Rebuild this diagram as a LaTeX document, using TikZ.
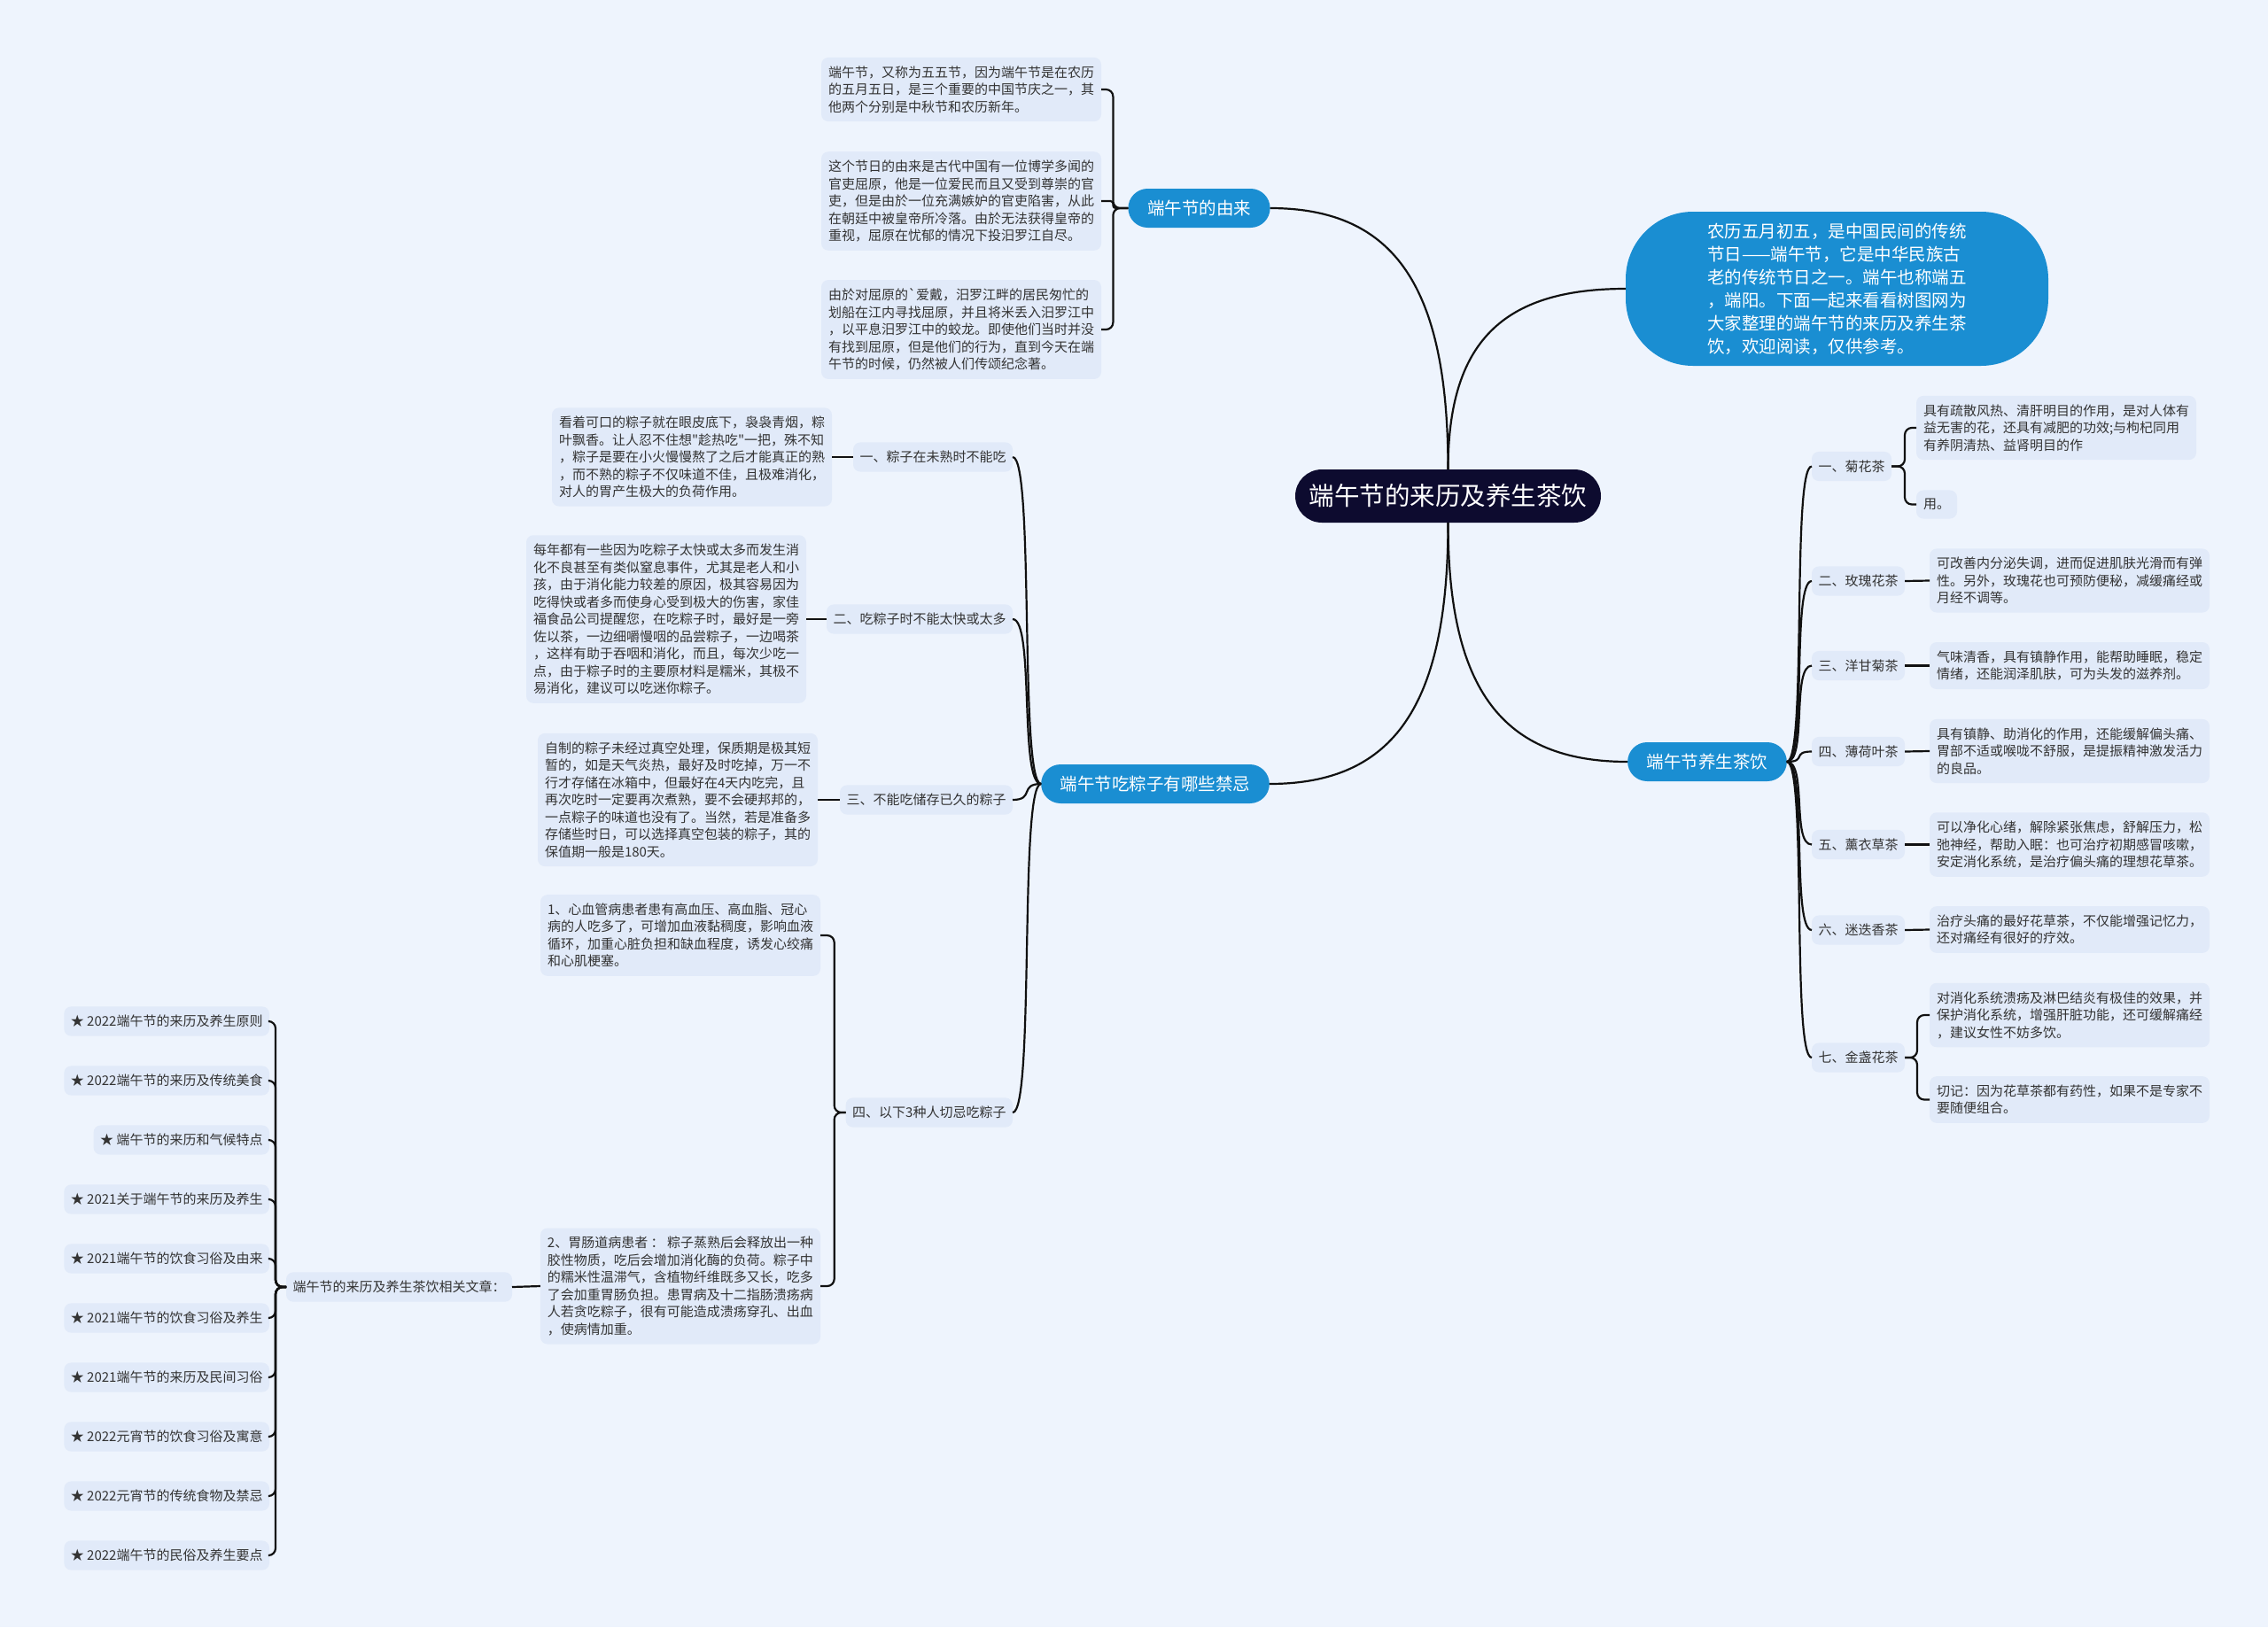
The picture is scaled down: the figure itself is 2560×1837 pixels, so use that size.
\documentclass[tikz,border=0pt]{standalone}
\usepackage{fontspec}
\setmainfont{Noto Sans CJK SC}[Ligatures=TeXOff]
\definecolor{bgc}{HTML}{EEF4FD}
\definecolor{boxc}{HTML}{E1EAF9}
\definecolor{bluec}{HTML}{1A8ED2}
\definecolor{navyc}{HTML}{0D0B2F}
\definecolor{txtc}{HTML}{333333}
\definecolor{lnc}{HTML}{111111}
\begin{document}
\begin{tikzpicture}[x=0.5pt,y=-0.5pt,
  every node/.style={inner sep=0pt, outer sep=0pt},
  dbox/.style={fill=boxc, rounded corners=4pt, align=left, text=txtc, font=\fontsize{7.5pt}{9.75pt}\selectfont, inner xsep=4pt, inner ysep=4.8pt},
  lbox/.style={dbox, inner xsep=3.75pt},
  bnode/.style={fill=bluec, text=white, rounded corners=11pt, minimum height=22pt, inner xsep=10.8pt, font=\fontsize{9.75pt}{12pt}\selectfont},
  conn/.style={draw=lnc, line width=1.1pt},
  brk/.style={conn, rounded corners=4pt},
]
\fill[bgc] (0,0) rectangle (2560,1837);
\useasboundingbox (0,0) rectangle (2560,1837);

% root and level 1
\node[fill=navyc, text=white, rounded corners=15pt, minimum width=172.5pt, minimum height=30pt, font=\fontsize{14.25pt}{16pt}\selectfont] (root) at (1634.5,560) {端午节的来历及养生茶饮};
\node[fill=bluec, text=white, rounded corners=38pt, minimum width=238.5pt, minimum height=87pt, align=left, font=\fontsize{9.75pt}{13pt}\selectfont] (intro) at (2073.5,326) {农历五月初五，是中国民间的传统\\节日——端午节，它是中华民族古\\老的传统节日之一。端午也称端五\\，端阳。下面一起来看看树图网为\\大家整理的端午节的来历及养生茶\\饮，欢迎阅读，仅供参考。};
\node[bnode] (yl) at (1353.5,235) {端午节的由来};
\node[bnode] (jj) at (1304,885) {端午节吃粽子有哪些禁忌};
\node[bnode] (ys) at (1927,860) {端午节养生茶饮};

% origin details
\node[dbox, anchor=east] (y1) at (1243,101) {端午节，又称为五五节，因为端午节是在农历\\的五月五日，是三个重要的中国节庆之一，其\\他两个分别是中秋节和农历新年。};
\node[dbox, anchor=east] (y2) at (1243,227) {这个节日的由来是古代中国有一位博学多闻的\\官吏屈原，他是一位爱民而且又受到尊崇的官\\吏，但是由於一位充满嫉妒的官吏陷害，从此\\在朝廷中被皇帝所冷落。由於无法获得皇帝的\\重视，屈原在忧郁的情况下投汨罗江自尽。};
\node[dbox, anchor=east] (y3) at (1243,372) {由於对屈原的`爱戴，汨罗江畔的居民匆忙的\\划船在江内寻找屈原，并且将米丢入汨罗江中\\，以平息汨罗江中的蛟龙。即使他们当时并没\\有找到屈原，但是他们的行为，直到今天在端\\午节的时候，仍然被人们传颂纪念著。};

% taboos
\node[lbox, anchor=east] (j1) at (1143,516) {一、粽子在未熟时不能吃};
\node[lbox, anchor=east] (j2) at (1143,699) {二、吃粽子时不能太快或太多};
\node[lbox, anchor=east] (j3) at (1143,903) {三、不能吃储存已久的粽子};
\node[lbox, anchor=east] (j4) at (1143,1256) {四、以下3种人切忌吃粽子};

\node[dbox, anchor=east] (d1) at (939,516) {看着可口的粽子就在眼皮底下，袅袅青烟，粽\\叶飘香。让人忍不住想"趁热吃"一把，殊不知\\，粽子是要在小火慢慢熬了之后才能真正的熟\\，而不熟的粽子不仅味道不佳，且极难消化，\\对人的胃产生极大的负荷作用。};
\node[dbox, anchor=east] (d2) at (910,699) {每年都有一些因为吃粽子太快或太多而发生消\\化不良甚至有类似窒息事件，尤其是老人和小\\孩，由于消化能力较差的原因，极其容易因为\\吃得快或者多而使身心受到极大的伤害，家佳\\福食品公司提醒您，在吃粽子时，最好是一旁\\佐以茶，一边细嚼慢咽的品尝粽子，一边喝茶\\，这样有助于吞咽和消化，而且，每次少吃一\\点，由于粽子时的主要原材料是糯米，其极不\\易消化，建议可以吃迷你粽子。};
\node[dbox, anchor=east] (d3) at (923,903) {自制的粽子未经过真空处理，保质期是极其短\\暂的，如是天气炎热，最好及时吃掉，万一不\\行才存储在冰箱中，但最好在4天内吃完，且\\再次吃时一定要再次煮熟，要不会硬邦邦的，\\一点粽子的味道也没有了。当然，若是准备多\\存储些时日，可以选择真空包装的粽子，其的\\保值期一般是180天。};
\node[dbox, anchor=east] (d41) at (926,1056) {1、心血管病患者患有高血压、高血脂、冠心\\病的人吃多了，可增加血液黏稠度，影响血液\\循环，加重心脏负担和缺血程度，诱发心绞痛\\和心肌梗塞。};
\node[dbox, anchor=east] (d42) at (926,1452) {2、胃肠道病患者 ： 粽子蒸熟后会释放出一种\\胶性物质，吃后会增加消化酶的负荷。粽子中\\的糯米性温滞气，含植物纤维既多又长，吃多\\了会加重胃肠负担。患胃病及十二指肠溃疡病\\人若贪吃粽子，很有可能造成溃疡穿孔、出血\\，使病情加重。};

% related articles
\node[lbox, anchor=east] (rel) at (578,1453) {端午节的来历及养生茶饮相关文章：};
\node[lbox, anchor=east] (r1) at (304,1153) {★ 2022端午节的来历及养生原则};
\node[lbox, anchor=east] (r2) at (304,1220) {★ 2022端午节的来历及传统美食};
\node[lbox, anchor=east] (r3) at (304,1287) {★ 端午节的来历和气候特点};
\node[lbox, anchor=east] (r4) at (304,1354) {★ 2021关于端午节的来历及养生};
\node[lbox, anchor=east] (r5) at (304,1421) {★ 2021端午节的饮食习俗及由来};
\node[lbox, anchor=east] (r6) at (304,1488) {★ 2021端午节的饮食习俗及养生};
\node[lbox, anchor=east] (r7) at (304,1555) {★ 2021端午节的来历及民间习俗};
\node[lbox, anchor=east] (r8) at (304,1622) {★ 2022元宵节的饮食习俗及寓意};
\node[lbox, anchor=east] (r9) at (304,1689) {★ 2022元宵节的传统食物及禁忌};
\node[lbox, anchor=east] (r10) at (304,1756) {★ 2022端午节的民俗及养生要点};

% teas
\node[lbox, anchor=west] (t1) at (2045,526.5) {一、菊花茶};
\node[lbox, anchor=west] (t2) at (2045,656) {二、玫瑰花茶};
\node[lbox, anchor=west] (t3) at (2045,751.5) {三、洋甘菊茶};
\node[lbox, anchor=west] (t4) at (2045,848.5) {四、薄荷叶茶};
\node[lbox, anchor=west] (t5) at (2045,953.5) {五、薰衣草茶};
\node[lbox, anchor=west] (t6) at (2045,1050) {六、迷迭香茶};
\node[lbox, anchor=west] (t7) at (2045,1194) {七、金盏花茶};

\node[dbox, anchor=west] (e1a) at (2163,483) {具有疏散风热、清肝明目的作用，是对人体有\\益无害的花，还具有减肥的功效;与枸杞同用\\有养阴清热、益肾明目的作};
\node[dbox, anchor=west] (e1b) at (2163,569.5) {用。};
\node[dbox, anchor=west] (e2) at (2178,655.5) {可改善内分泌失调，进而促进肌肤光滑而有弹\\性。另外，玫瑰花也可预防便秘，减缓痛经或\\月经不调等。};
\node[dbox, anchor=west] (e3) at (2178,751.5) {气味清香，具有镇静作用，能帮助睡眠，稳定\\情绪，还能润泽肌肤，可为头发的滋养剂。};
\node[dbox, anchor=west] (e4) at (2178,848) {具有镇静、助消化的作用，还能缓解偏头痛、\\胃部不适或喉咙不舒服，是提振精神激发活力\\的良品。};
\node[dbox, anchor=west] (e5) at (2178,953.5) {可以净化心绪，解除紧张焦虑，舒解压力，松\\弛神经，帮助入眠：也可治疗初期感冒咳嗽，\\安定消化系统，是治疗偏头痛的理想花草茶。};
\node[dbox, anchor=west] (e6) at (2178,1049.5) {治疗头痛的最好花草茶，不仅能增强记忆力，\\还对痛经有很好的疗效。};
\node[dbox, anchor=west] (e7a) at (2178,1146) {对消化系统溃疡及淋巴结炎有极佳的效果，并\\保护消化系统，增强肝脏功能，还可缓解痛经\\，建议女性不妨多饮。};
\node[dbox, anchor=west] (e7b) at (2178,1241.5) {切记：因为花草茶都有药性，如果不是专家不\\要随便组合。};

% connectors from root
\draw[conn] (root.north) .. controls +(0,-206) and +(141,0) .. (yl.east);
\draw[conn] (root.north) .. controls +(0,-143) and +(-140,0) .. (intro.west);
\draw[conn] (root.south) .. controls +(0,206) and +(141,0) .. (jj.east);
\draw[conn] (root.south) .. controls +(0,189) and +(-141,0) .. (ys.west);

% origin bracket
\draw[brk] (yl.west) -- ++(-17,0) |- (y1.east);
\draw[brk, rounded corners=1.5pt] (yl.west) -- ++(-17,0) |- (y2.east);
\draw[brk] (yl.west) -- ++(-17,0) |- (y3.east);

% taboo branches
\foreach \c in {j1,j2,j3,j4} \draw[conn] (jj.west) .. controls +(-25,0) and +(25,0) .. (\c.east);
\draw[conn] (j1.west) -- (d1.east);
\draw[conn] (j2.west) -- (d2.east);
\draw[conn] (j3.west) -- (d3.east);
\draw[brk] (j4.west) -- ++(-13,0) |- (d41.east);
\draw[brk] (j4.west) -- ++(-13,0) |- (d42.east);
\draw[conn] (rel.east) -- (d42.west);
\foreach \i in {1,2,3,4,5,6,7,8,9,10} \draw[brk] (rel.west) -- ++(-12,0) |- (r\i.east);

% tea branches
\foreach \c in {t1,t2,t3,t4,t5,t6,t7} \draw[conn] (ys.east) .. controls +(23,0) and +(-23,0) .. (\c.west);
\draw[brk] (t1.east) -- ++(15,0) |- (e1a.west);
\draw[brk] (t1.east) -- ++(15,0) |- (e1b.west);
\foreach \i in {2,3,4,5,6} \draw[conn] (t\i.east) -- (e\i.west);
\draw[brk] (t7.east) -- ++(14,0) |- (e7a.west);
\draw[brk] (t7.east) -- ++(14,0) |- (e7b.west);
\end{tikzpicture}
\end{document}
